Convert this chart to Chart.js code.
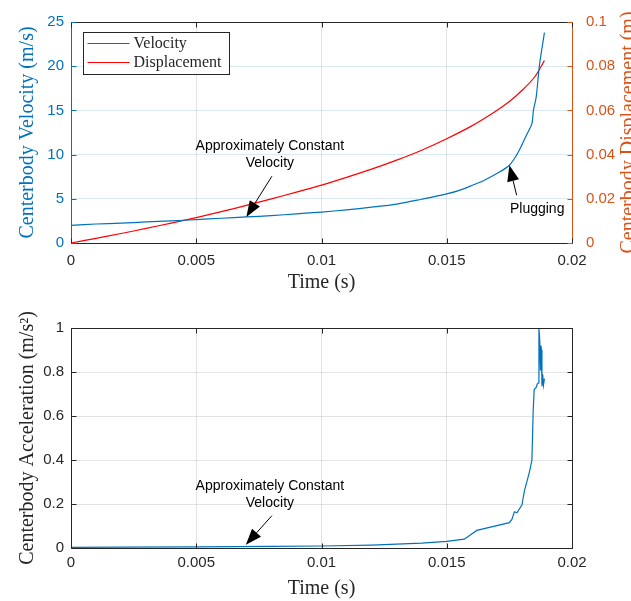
<!DOCTYPE html>
<html>
<head>
<meta charset="utf-8">
<script src="https://cdn.jsdelivr.net/npm/chart.js@4.4.0/dist/chart.umd.min.js"></script>
<style>
body { margin: 0; background: #fff; }
#wrap { position: relative; width: 631px; height: 601px; }
#chart { position: absolute; left: 0; top: 0; }
#chart2 { position: absolute; left: 0; top: 300px; }
</style>
</head>
<body>
<div id="wrap">
<canvas id="chart" width="631" height="300"></canvas>
<canvas id="chart2" width="631" height="301"></canvas>
</div>
<script>
// DATA
var velTime = [0, 0.001, 0.002, 0.003, 0.004, 0.005, 0.006, 0.007, 0.008, 0.009, 0.01, 0.011, 0.012, 0.013, 0.014, 0.015, 0.0155, 0.016, 0.0165, 0.017, 0.0175, 0.0178, 0.018, 0.0182, 0.0184, 0.01846, 0.01857, 0.0187, 0.0189];
var velocity = [2.0, 2.15, 2.25, 2.38, 2.5, 2.65, 2.8, 2.95, 3.1, 3.3, 3.5, 3.75, 4.05, 4.4, 4.95, 5.55, 5.95, 6.5, 7.1, 7.85, 8.8, 10.0, 11.1, 12.3, 13.5, 15.0, 16.5, 20.1, 23.8];

var dispTime = [0, 0.001, 0.002, 0.003, 0.004, 0.005, 0.006, 0.007, 0.008, 0.009, 0.01, 0.011, 0.012, 0.013, 0.014, 0.015, 0.016, 0.017, 0.0175, 0.018, 0.0185, 0.0189];
var displacement = [0, 0.0021, 0.0043, 0.0066, 0.009, 0.0115, 0.0142, 0.017, 0.02, 0.023, 0.0262, 0.0297, 0.0334, 0.0375, 0.042, 0.0472, 0.053, 0.06, 0.064, 0.069, 0.075, 0.0825];

var accTime = [0, 0.002, 0.005, 0.008, 0.01, 0.012, 0.014, 0.015, 0.0157, 0.0162, 0.0175, 0.0176, 0.0177, 0.0178, 0.018, 0.0181, 0.0183, 0.0184, 0.01845, 0.01849, 0.01857, 0.01861, 0.01865, 0.01868, 0.01871, 0.01874, 0.01876, 0.01878, 0.0188, 0.01883, 0.01886, 0.0189];
var acceleration = [0.003, 0.004, 0.005, 0.007, 0.009, 0.013, 0.022, 0.03, 0.04, 0.08, 0.115, 0.13, 0.165, 0.16, 0.195, 0.26, 0.345, 0.4, 0.62, 0.72, 0.73, 0.745, 0.75, 1.0, 0.95, 0.81, 0.92, 0.9, 0.735, 0.79, 0.74, 0.77];

var xTicks = [0, 0.005, 0.01, 0.015, 0.02];
var velTicks = [0, 5, 10, 15, 20, 25];
var dispTicks = [0, 0.02, 0.04, 0.06, 0.08, 0.1];
var accTicks = [0, 0.2, 0.4, 0.6, 0.8, 1];

var seriesNames = ['Velocity', 'Displacement'];

// annotations in data units: text anchor, arrow tail, arrow tip
var topNotes = [
    { lines: ['Approximately Constant', 'Velocity'], at: [0.00794, 10.95], from: [0.00802, 7.55], to: [0.007, 2.95] },
    { lines: ['Plugging'], at: [0.01861, 3.8], from: [0.01779, 5.4], to: [0.0175, 8.8] }
];
var bottomNotes = [
    { lines: ['Approximately Constant', 'Velocity'], at: [0.00794, 0.283], from: [0.00802, 0.147], to: [0.00698, 0.015] }
];

var BLUE = '#0072BD';
var ORANGE = '#D95319';
var DARK = '#262626';
var SANS = '"Liberation Sans", Arial, sans-serif';
var SERIF = '"Liberation Serif", "Times New Roman", serif';

function pairs(xs, ys) {
    return xs.map(function(x, i) { return { x: x, y: ys[i] }; });
}

function fixTicks(list) {
    return function(scale) {
        scale.ticks = list.map(function(v) { return { value: v }; });
    };
}

function plain(v) {
    return String(v);
}

function drawArrow(ctx, x0, y0, x1, y1) {
    var ang = Math.atan2(y1 - y0, x1 - x0);
    var len = 16, half = 6;
    var bx = x1 - len * Math.cos(ang), by = y1 - len * Math.sin(ang);
    ctx.beginPath();
    ctx.moveTo(x0, y0);
    ctx.lineTo(bx, by);
    ctx.stroke();
    ctx.beginPath();
    ctx.moveTo(x1, y1);
    ctx.lineTo(bx + half * Math.sin(ang), by - half * Math.cos(ang));
    ctx.lineTo(bx - half * Math.sin(ang), by + half * Math.cos(ang));
    ctx.closePath();
    ctx.fill();
}

// box, inward ticks, annotations, legend, right title
var extras = {
    id: 'extras',
    afterDatasetsDraw: function(chart, args, opts) {
        var ctx = chart.ctx;
        var a = chart.chartArea;
        var xs = chart.scales.x;
        var ys = chart.scales[opts.leftId];
        ctx.save();

        // notes
        ctx.strokeStyle = '#000';
        ctx.fillStyle = '#000';
        ctx.lineWidth = 1;
        ctx.font = '14px ' + SANS;
        ctx.textAlign = 'center';
        ctx.textBaseline = 'middle';
        (opts.notes || []).forEach(function(n) {
            var tx = xs.getPixelForValue(n.at[0]);
            var ty = ys.getPixelForValue(n.at[1]);
            n.lines.forEach(function(l, i) {
                ctx.fillText(l, tx, ty + i * 17);
            });
            drawArrow(ctx, xs.getPixelForValue(n.from[0]), ys.getPixelForValue(n.from[1]),
                xs.getPixelForValue(n.to[0]), ys.getPixelForValue(n.to[1]));
        });

        // frame
        var L = Math.round(a.left) + 0.5, R = Math.round(a.right) + 0.5;
        var T = Math.round(a.top) + 0.5, B = Math.round(a.bottom) + 0.5;
        function line(x0, y0, x1, y1, c) {
            ctx.strokeStyle = c;
            ctx.beginPath();
            ctx.moveTo(x0, y0);
            ctx.lineTo(x1, y1);
            ctx.stroke();
        }
        line(L, T, R, T, DARK);
        line(L, B, R, B, DARK);
        line(L, T, L, B, opts.leftColor);
        line(R, T, R, B, opts.rightColor);
        var tl = 5;
        xs.ticks.forEach(function(t) {
            var p = Math.round(xs.getPixelForValue(t.value)) + 0.5;
            line(p, B, p, B - tl, DARK);
            line(p, T, p, T + tl, DARK);
        });
        ys.ticks.forEach(function(t) {
            var p = Math.round(ys.getPixelForValue(t.value)) + 0.5;
            line(L, p, L + tl, p, opts.leftColor);
            if (!opts.rightId) line(R, p, R - tl, p, opts.rightColor);
        });
        if (opts.rightId) {
            var rs = chart.scales[opts.rightId];
            rs.ticks.forEach(function(t) {
                var p = Math.round(rs.getPixelForValue(t.value)) + 0.5;
                line(R, p, R - tl, p, opts.rightColor);
            });
        }

        // legend
        if (opts.legend) {
            var lx = L + 12, ly = T + 10, lw = 146, lh = 42;
            ctx.fillStyle = '#fff';
            ctx.fillRect(lx, ly, lw, lh);
            ctx.strokeStyle = DARK;
            ctx.strokeRect(lx, ly, lw, lh);
            ctx.font = '16px ' + SERIF;
            ctx.textAlign = 'left';
            chart.data.datasets.forEach(function(ds, i) {
                var yy = ly + 11 + i * 19;
                ctx.strokeStyle = ds.borderColor;
                ctx.beginPath();
                ctx.moveTo(lx + 4, yy);
                ctx.lineTo(lx + 46, yy);
                ctx.stroke();
                ctx.fillStyle = DARK;
                ctx.fillText(ds.label, lx + 50, yy);
            });
        }

        // right axis title (reads bottom to top, clipped by the edge)
        if (opts.rightTitle) {
            ctx.translate(chart.width - 2, (a.top + a.bottom) / 2);
            ctx.rotate(-Math.PI / 2);
            ctx.font = '20px ' + SERIF;
            ctx.fillStyle = ORANGE;
            ctx.textAlign = 'center';
            ctx.textBaseline = 'middle';
            ctx.fillText(opts.rightTitle, 0, 0);
        }
        ctx.restore();
    }
};

function createTopChart() {
    var chart = document.getElementById('chart').getContext('2d');
    new Chart(chart, {
        type: 'line',
        data: {
            datasets: [{
                label: seriesNames[0],
                data: pairs(velTime, velocity),
                yAxisID: 'y',
                borderColor: BLUE,
                borderWidth: 1.2,
                pointRadius: 0,
                tension: 0.3
            }, {
                label: seriesNames[1],
                data: pairs(dispTime, displacement),
                yAxisID: 'y1',
                borderColor: '#FF0000',
                borderWidth: 1.2,
                pointRadius: 0,
                tension: 0.3
            }]
        },
        options: {
            responsive: false,
            animation: false,
            layout: { padding: { top: 22, left: 0, right: 0, bottom: 0 } },
            scales: {
                x: {
                    type: 'linear', min: 0, max: 0.02,
                    afterBuildTicks: fixTicks(xTicks),
                    afterFit: function(s) { s.height = 57; },
                    border: { display: false },
                    grid: { color: 'rgba(38,38,38,0.13)', drawTicks: false },
                    ticks: { color: DARK, padding: 9, font: { family: SANS, size: 15 }, callback: plain },
                    title: { display: true, text: 'Time (s)', color: DARK, font: { family: SERIF, size: 20 }, padding: { top: 0, bottom: 5 } }
                },
                y: {
                    position: 'left', min: 0, max: 25,
                    afterBuildTicks: fixTicks(velTicks),
                    afterFit: function(s) { s.width = 71; },
                    border: { display: false },
                    grid: { color: 'rgba(0,114,189,0.15)', drawTicks: false },
                    ticks: { color: BLUE, padding: 7, font: { family: SANS, size: 15 }, callback: plain },
                    title: { display: true, text: 'Centerbody Velocity (m/s)', color: BLUE, font: { family: SERIF, size: 20 }, padding: { top: 16, bottom: 0 } }
                },
                y1: {
                    position: 'right', min: 0, max: 0.1,
                    afterBuildTicks: fixTicks(dispTicks),
                    afterFit: function(s) { s.width = 59; },
                    border: { display: false },
                    grid: { display: false },
                    ticks: { color: ORANGE, padding: 6, font: { family: SANS, size: 15 }, callback: plain }
                }
            },
            plugins: {
                legend: { display: false },
                tooltip: { enabled: false },
                extras: { leftId: 'y', rightId: 'y1', leftColor: BLUE, rightColor: ORANGE, notes: topNotes, legend: true, rightTitle: 'Centerbody Displacement (m)' }
            }
        },
        plugins: [extras]
    });
}

function createBottomChart() {
    var chart = document.getElementById('chart2').getContext('2d');
    new Chart(chart, {
        type: 'line',
        data: {
            datasets: [{
                label: 'Acceleration',
                data: pairs(accTime, acceleration),
                borderColor: BLUE,
                borderWidth: 1.2,
                pointRadius: 0,
                tension: 0
            }]
        },
        options: {
            responsive: false,
            animation: false,
            layout: { padding: { top: 28, left: 0, right: 59, bottom: 0 } },
            scales: {
                x: {
                    type: 'linear', min: 0, max: 0.02,
                    afterBuildTicks: fixTicks(xTicks),
                    afterFit: function(s) { s.height = 53; },
                    border: { display: false },
                    grid: { color: 'rgba(38,38,38,0.13)', drawTicks: false },
                    ticks: { color: DARK, padding: 6, font: { family: SANS, size: 15 }, callback: plain },
                    title: { display: true, text: 'Time (s)', color: DARK, font: { family: SERIF, size: 20 }, padding: { top: 0, bottom: 0 } }
                },
                y: {
                    position: 'left', min: 0, max: 1,
                    afterBuildTicks: fixTicks(accTicks),
                    afterFit: function(s) { s.width = 71; },
                    border: { display: false },
                    grid: { color: 'rgba(38,38,38,0.13)', drawTicks: false },
                    ticks: { color: DARK, padding: 7, font: { family: SANS, size: 15 }, callback: plain },
                    title: { display: true, text: 'Centerbody Acceleration (m/s\u00b2)', color: DARK, font: { family: SERIF, size: 20 }, padding: { top: 16, bottom: 0 } }
                }
            },
            plugins: {
                legend: { display: false },
                tooltip: { enabled: false },
                extras: { leftId: 'y', leftColor: DARK, rightColor: DARK, notes: bottomNotes }
            }
        },
        plugins: [extras]
    });
}

window.onload = function() {
    createTopChart();
    createBottomChart();
};
</script>
</body>
</html>
